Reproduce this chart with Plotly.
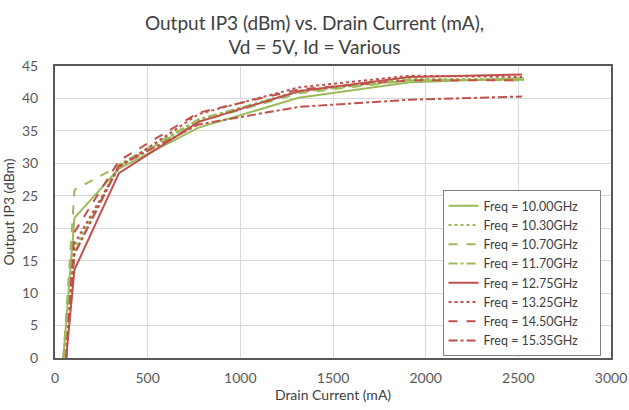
import plotly.graph_objects as go

# drain current (mA) sample points
current = [45, 105, 345, 775, 1315, 1915, 2530]
current_red = [60, 105, 345, 775, 1315, 1915, 2520]

labels = ["Freq = 10.00GHz", "Freq = 10.30GHz", "Freq = 10.70GHz", "Freq = 11.70GHz",
          "Freq = 12.75GHz", "Freq = 13.25GHz", "Freq = 14.50GHz", "Freq = 15.35GHz"]

oip3_1000 = [0, 21.6, 29.2, 35.5, 40.1, 42.5, 43.1]
oip3_1030 = [0, 16.8, 29.6, 36.6, 41.2, 43.0, 43.0]
oip3_1070 = [0, 25.9, 29.6, 36.4, 40.8, 42.8, 42.9]
oip3_1170 = [0, 16.2, 29.8, 36.8, 41.0, 42.9, 42.8]
oip3_1275 = [0, 13.6, 28.5, 36.4, 41.1, 43.3, 43.7]
oip3_1325 = [0, 17.6, 29.4, 37.6, 41.7, 43.5, 43.3]
oip3_1450 = [0, 19.4, 30.4, 37.8, 41.4, 42.8, 42.8]
oip3_1535 = [0, 16.0, 29.6, 36.0, 38.7, 39.8, 40.3]

series = [oip3_1000, oip3_1030, oip3_1070, oip3_1170,
          oip3_1275, oip3_1325, oip3_1450, oip3_1535]

green = "#9BBB59"
red = "#C0504D"
colors = [green] * 4 + [red] * 4
dashes = ["solid", "dot", "dash", "dashdot"] * 2

fig = go.Figure()
for i, ys in enumerate(series):
    xs = current if i < 4 else current_red
    fig.add_trace(go.Scatter(
        x=xs, y=ys, mode="lines",
        name=labels[i] + "\u00a0" * 5,  # pad so the legend box is as wide as the original
        line=dict(color=colors[i], width=2, dash=dashes[i]),
    ))

font = "Lato, 'Open Sans', sans-serif"
fig.update_layout(
    width=629, height=410,
    margin=dict(l=55, r=18, t=66, b=52),
    paper_bgcolor="white", plot_bgcolor="white",
    font=dict(family=font, size=14, color="#404040"),
    title=dict(
        text="Output IP3 (dBm) vs. Drain Current (mA),<br>Vd = 5V, Id = Various",
        x=0.5, xanchor="center", y=0.928, yanchor="middle",
        font=dict(size=19, color="#404040"),
    ),
    showlegend=True,
    legend=dict(
        x=0.697, xanchor="left", y=0.575, yanchor="top",
        bgcolor="white", bordercolor="#7F7F7F", borderwidth=1,
        font=dict(size=12.5, color="#404040"),
        tracegroupgap=0, itemwidth=30,
    ),
)
fig.update_xaxes(
    range=[0, 3000], dtick=500, showgrid=True, gridcolor="#D9D9D9",
    showline=True, linecolor="#595959", linewidth=2, mirror=True,
    ticks="", zeroline=False, automargin=False, ticklabelstandoff=6,
    title=dict(text="Drain Current (mA)", font=dict(size=14), standoff=4),
    tickfont=dict(size=14, color="#595959"),
)
fig.update_yaxes(
    range=[0, 45], dtick=5, showgrid=True, gridcolor="#D9D9D9",
    showline=True, linecolor="#595959", linewidth=2, mirror=True,
    ticks="", zeroline=False, automargin=False, ticklabelstandoff=12,
    title=dict(text="Output IP3 (dBm)", font=dict(size=14), standoff=10),
    tickfont=dict(size=14, color="#595959"),
)

# drop the default 8px body margin so the figure sits at the page corner
fig.write_html("out.html", config={"displayModeBar": False},
               post_script="document.body.style.margin='0';")
